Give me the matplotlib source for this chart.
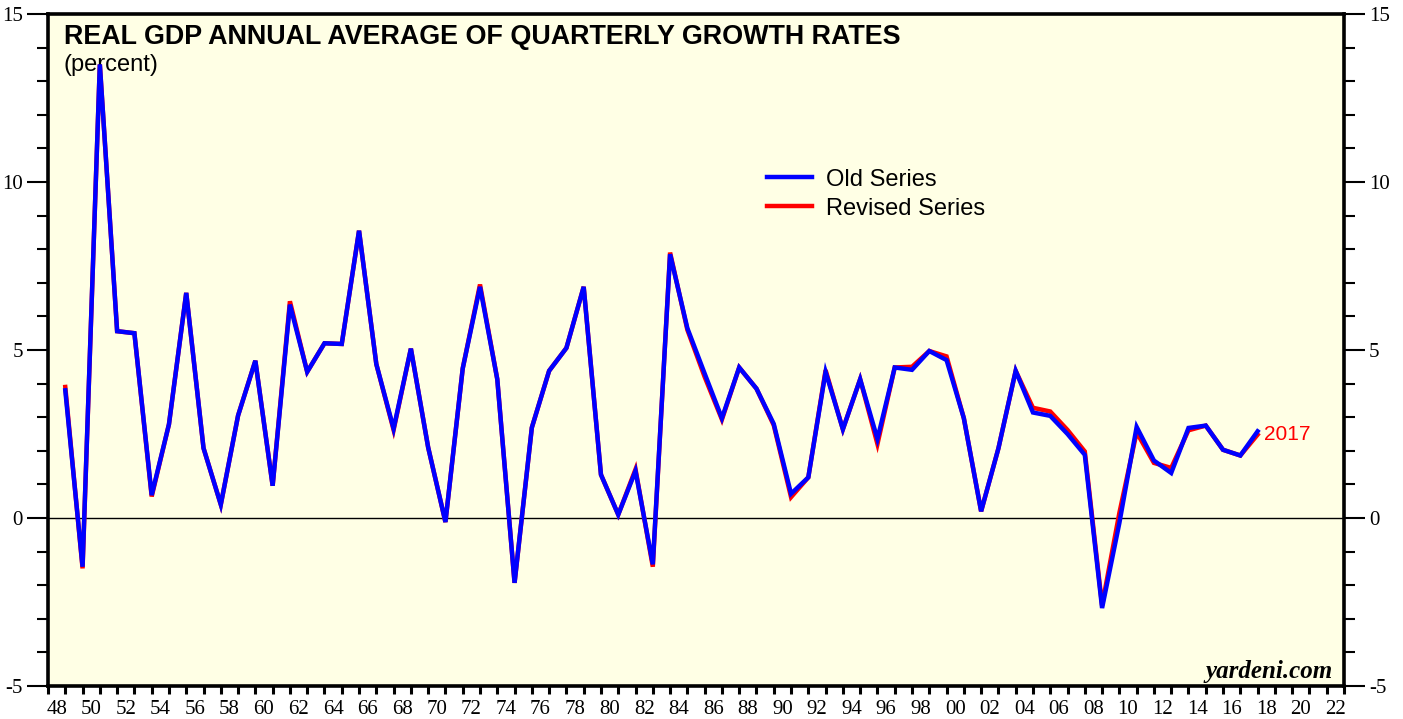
import numpy as np
import matplotlib
matplotlib.use("Agg")
import matplotlib.pyplot as plt
from matplotlib.ticker import FixedLocator, NullFormatter

# annual data, 1948-2017 (percent)
years = np.arange(1948, 2018)

old_series = [
    3.80, -1.45, 13.50, 5.56, 5.50, 0.68, 2.79, 6.70, 2.08, 0.40,
    3.05, 4.68, 0.96, 6.35, 4.35, 5.20, 5.18, 8.55, 4.58, 2.66,
    5.04, 2.10, -0.12, 4.45, 6.88, 4.13, -1.93, 2.69, 4.38, 5.06,
    6.88, 1.29, 0.10, 1.40, -1.38, 7.85, 5.65, 4.30, 2.97, 4.48,
    3.85, 2.80, 0.72, 1.21, 4.35, 2.64, 4.13, 2.35, 4.48, 4.41,
    4.97, 4.70, 2.97, 0.20, 2.07, 4.38, 3.14, 3.04, 2.50, 1.88,
    -2.68, -0.15, 2.71, 1.71, 1.34, 2.68, 2.75, 2.03, 1.86, 2.58,
]

revised_series = [
    3.90, -1.50, 13.50, 5.56, 5.50, 0.64, 2.79, 6.70, 2.08, 0.40,
    3.05, 4.68, 0.96, 6.45, 4.35, 5.20, 5.18, 8.55, 4.58, 2.62,
    5.04, 2.10, -0.12, 4.45, 6.95, 4.13, -1.93, 2.69, 4.38, 5.06,
    6.88, 1.29, 0.10, 1.45, -1.45, 7.90, 5.60, 4.20, 2.93, 4.48,
    3.85, 2.76, 0.62, 1.21, 4.40, 2.64, 4.13, 2.20, 4.48, 4.50,
    4.97, 4.81, 2.97, 0.20, 2.07, 4.38, 3.28, 3.17, 2.62, 1.98,
    -2.60, 0.15, 2.55, 1.64, 1.49, 2.61, 2.75, 2.03, 1.86, 2.48,
]

x_labels = ["%02d" % (y % 100) for y in range(1948, 2023, 2)]

plt.rcParams["font.family"] = ["Liberation Sans", "DejaVu Sans"]
plt.rcParams["axes.unicode_minus"] = False
serif = ["Liberation Serif", "DejaVu Serif"]

fig = plt.figure(figsize=(14.03, 7.19), dpi=100)
ax = fig.add_axes([48 / 1403, 33 / 719, 1296 / 1403, 672 / 719])
ax.set_facecolor("#FFFFE5")

# annual values are plotted at year end
xpos = years + 1
ax.plot(xpos, revised_series, color="#FF0000", lw=3.2, solid_joinstyle="miter",
        label="Revised Series", zorder=3)
ax.plot(xpos, old_series, color="#0000FF", lw=3.2, solid_joinstyle="miter",
        label="Old Series", zorder=4)
ax.axhline(0, color="black", lw=1.0, zorder=2)

ax.set_xlim(1948, 2023)
ax.set_ylim(-5, 15)

# x axis: tick every year, labels centred in even years
ax.xaxis.set_major_locator(FixedLocator(np.arange(1948, 2024)))
ax.xaxis.set_major_formatter(NullFormatter())
ax.xaxis.set_minor_locator(FixedLocator(np.arange(1948, 2023, 2) + 0.5))
ax.set_xticklabels(x_labels, minor=True, fontsize=15, family=serif)
ax.tick_params(axis="x", which="major", length=6, width=2.2, direction="out")
ax.tick_params(axis="x", which="minor", length=0, pad=10)

# y axis: labels both sides
ax.set_yticks([-5, 0, 5, 10, 15])
ax.set_yticks(np.arange(-5, 16, 1), minor=True)
ax.tick_params(axis="y", which="both", left=True, right=True,
               labelleft=True, labelright=True, direction="out", width=1.5)
ax.tick_params(axis="y", which="major", length=15, pad=3, labelsize=15)
ax.tick_params(axis="y", which="minor", length=8)
for lbl in ax.get_yticklabels(which="both"):
    lbl.set_family(serif)

for sp in ax.spines.values():
    sp.set_linewidth(2.6)

ax.text(0.0123, 0.9554, "REAL GDP ANNUAL AVERAGE OF QUARTERLY GROWTH RATES",
        transform=ax.transAxes, fontsize=19.4, fontweight="bold", va="baseline")
ax.text(0.0123, 0.915, "(percent)", transform=ax.transAxes, fontsize=17,
        va="baseline")

handles, labels = ax.get_legend_handles_labels()
ax.legend(handles[::-1], labels[::-1], loc="upper left",
          bbox_to_anchor=(0.5548, 0.770), frameon=False, fontsize=17,
          handlelength=1.9, handletextpad=0.6, labelspacing=0.3,
          borderpad=0, borderaxespad=0)

ax.text(2018.35, revised_series[-1], "2017", color="#FF0000", fontsize=15,
        va="center", ha="left")
ax.text(0.9915, 0.012, "yardeni.com", transform=ax.transAxes, ha="right",
        va="baseline", fontsize=18, fontweight="bold", fontstyle="italic",
        family=serif)

fig.savefig("out.png", dpi=100)
